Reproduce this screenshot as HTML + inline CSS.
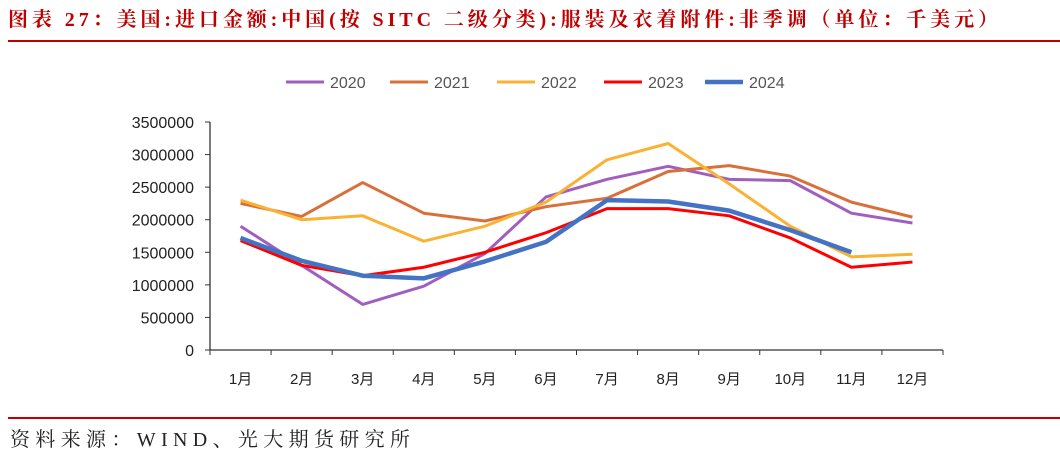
<!DOCTYPE html>
<html><head><meta charset="utf-8"><style>
body{margin:0;background:#fff;width:1060px;height:469px;overflow:hidden;font-family:"Liberation Sans","Noto Sans CJK SC",sans-serif}
</style></head><body>
<svg width="1060" height="469" xmlns="http://www.w3.org/2000/svg">
<text x="8" y="26" font-size="20" font-weight="bold" fill="#c00000" textLength="990" lengthAdjust="spacing" font-family="Liberation Serif,Noto Serif CJK SC,serif">图表 27：美国:进口金额:中国(按 SITC 二级分类):服装及衣着附件:非季调（单位：千美元）</text>
<rect x="8" y="40" width="1052" height="2" fill="#c00000"/>
<rect x="8" y="417" width="1052" height="2" fill="#c00000"/>
<text x="10" y="446" font-size="20" fill="#222" textLength="400" lengthAdjust="spacing" font-family="Liberation Serif,Noto Serif CJK SC,serif">资料来源：WIND、光大期货研究所</text>
<g id="legend"></g>
<g id="axes"></g>
<g id="series"></g>
</svg>
<script>
const categories=["1月","2月","3月","4月","5月","6月","7月","8月","9月","10月","11月","12月"];
const yTicks=[0,500000,1000000,1500000,2000000,2500000,3000000,3500000];
const seriesNames=["2020","2021","2022","2023","2024"];
const s2020=[1900000,1300000,700000,980000,1480000,2350000,2620000,2820000,2620000,2600000,2100000,1950000];
const s2021=[2250000,2050000,2570000,2100000,1980000,2200000,2330000,2740000,2830000,2670000,2270000,2040000];
const s2022=[2300000,2000000,2060000,1670000,1900000,2270000,2920000,3170000,2550000,1900000,1430000,1470000];
const s2023=[1680000,1300000,1140000,1270000,1500000,1800000,2170000,2170000,2060000,1720000,1270000,1350000];
const s2024=[1720000,1370000,1140000,1100000,1360000,1660000,2300000,2280000,2140000,1840000,1500000];
const NS="http://www.w3.org/2000/svg";
const X0=210,X1=943,Y0=350,Y1=122,YMAX=3500000;
const slot=(X1-X0)/categories.length;
const xs=i=>X0+slot*(i+0.5);
const ys=v=>Y0-(v/YMAX)*(Y0-Y1);
function mk(tag,attrs,parent,text){const e=document.createElementNS(NS,tag);for(const k in attrs)e.setAttribute(k,attrs[k]);if(text!==undefined)e.textContent=text;parent.appendChild(e);return e;}
const axes=document.getElementById('axes');
let yl=mk('line',{x1:X0,y1:Y1,x2:X0,y2:Y0,stroke:'#333','stroke-width':1.3},axes);


let xl=mk('line',{x1:X0,y1:Y0,x2:X1,y2:Y0,stroke:'#333','stroke-width':1.3},axes);


yTicks.forEach(v=>{
 mk('line',{x1:X0-5,y1:ys(v),x2:X0,y2:ys(v),stroke:'#333'},axes);
 const t=mk('text',{x:X0-16,y:ys(v)+6,'text-anchor':'end','font-size':16,fill:'#222'},axes,String(v));
 
 
});
for(let i=0;i<=categories.length;i++){mk('line',{x1:X0+slot*i,y1:Y0,x2:X0+slot*i,y2:Y0+5,stroke:'#333'},axes);}
categories.forEach((c,i)=>{
 const t=mk('text',{x:xs(i),y:Y0+34,'text-anchor':'middle','font-size':15,fill:'#222'},axes,c);
 
 
});
const colors=["#a05fc0","#d9703a","#f9b233","#ff0000","#4472c4"];
const widths=[3,3,3,3,4.5];
const data=[s2020,s2021,s2022,s2023,s2024];
const sg=document.getElementById('series');
data.forEach((d,k)=>{
 const p=mk('polyline',{points:d.map((v,i)=>xs(i)+','+ys(v)).join(' '),fill:'none',stroke:colors[k],'stroke-width':widths[k],'stroke-linejoin':'round'},sg);
 
 
});
const lg=document.getElementById('legend');
const lx=[286,390,497,604,705];
seriesNames.forEach((n,k)=>{
 const g=mk('g',{},lg);
 
 
 mk('line',{x1:lx[k],y1:82,x2:lx[k]+38,y2:82,stroke:colors[k],'stroke-width':widths[k]},g);
 mk('text',{x:lx[k]+44,y:88,'font-size':16,fill:'#555'},g,n);
});
</script>
</body></html>
